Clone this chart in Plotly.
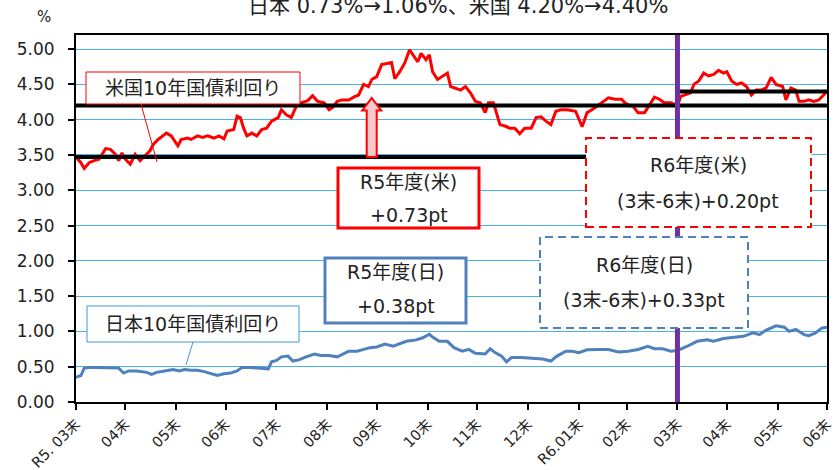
import plotly.graph_objects as go

# ---------------- data ----------------
us_dates = [
    "2023-03-31",
    "2023-04-03", "2023-04-05", "2023-04-08", "2023-04-11", "2023-04-14", "2023-04-18", "2023-04-21", "2023-04-24", "2023-04-26", "2023-04-28", "2023-04-30",
    "2023-05-03", "2023-05-06", "2023-05-09", "2023-05-12", "2023-05-15", "2023-05-17", "2023-05-20", "2023-05-25", "2023-05-28",
    "2023-06-01", "2023-06-03", "2023-06-07", "2023-06-09", "2023-06-13", "2023-06-16", "2023-06-19", "2023-06-23", "2023-06-26", "2023-06-29",
    "2023-07-01", "2023-07-05", "2023-07-07", "2023-07-09", "2023-07-11", "2023-07-13", "2023-07-16", "2023-07-19", "2023-07-22", "2023-07-25", "2023-07-28",
    "2023-08-01", "2023-08-03", "2023-08-06", "2023-08-09", "2023-08-12", "2023-08-15", "2023-08-19", "2023-08-22", "2023-08-25", "2023-08-29",
    "2023-09-01", "2023-09-03", "2023-09-06", "2023-09-09", "2023-09-13", "2023-09-16", "2023-09-19", "2023-09-22", "2023-09-25", "2023-09-27", "2023-09-30",
    "2023-10-03", "2023-10-06", "2023-10-09", "2023-10-11", "2023-10-14", "2023-10-17", "2023-10-20", "2023-10-22", "2023-10-25", "2023-10-27", "2023-10-30",
    "2023-11-01", "2023-11-03", "2023-11-06", "2023-11-09", "2023-11-12", "2023-11-14", "2023-11-17", "2023-11-20", "2023-11-23", "2023-11-26", "2023-11-29",
    "2023-12-02", "2023-12-05", "2023-12-07", "2023-12-10", "2023-12-12", "2023-12-14", "2023-12-17", "2023-12-20", "2023-12-23", "2023-12-26", "2023-12-29",
    "2024-01-02", "2024-01-05", "2024-01-08", "2024-01-11", "2024-01-14", "2024-01-17", "2024-01-20", "2024-01-24", "2024-01-29",
    "2024-02-02", "2024-02-05", "2024-02-08", "2024-02-12", "2024-02-15", "2024-02-18", "2024-02-22", "2024-02-26", "2024-02-28",
    "2024-03-01", "2024-03-04", "2024-03-07", "2024-03-11", "2024-03-14", "2024-03-17", "2024-03-20", "2024-03-23", "2024-03-27", "2024-03-31",
    "2024-04-02", "2024-04-05", "2024-04-08", "2024-04-10", "2024-04-13", "2024-04-16", "2024-04-19", "2024-04-22", "2024-04-25", "2024-04-28", "2024-04-30",
    "2024-05-03", "2024-05-06", "2024-05-09", "2024-05-12", "2024-05-15", "2024-05-18", "2024-05-21", "2024-05-24", "2024-05-27", "2024-05-30",
    "2024-06-03", "2024-06-05", "2024-06-08", "2024-06-11", "2024-06-13", "2024-06-16", "2024-06-19", "2024-06-22", "2024-06-25", "2024-06-28", "2024-06-30",
]
us_yield = [
    3.47,
    3.39, 3.31, 3.39, 3.42, 3.44, 3.59, 3.58, 3.51, 3.42, 3.53, 3.44,
    3.37, 3.51, 3.42, 3.49, 3.56, 3.65, 3.72, 3.81, 3.77,
    3.63, 3.72, 3.74, 3.72, 3.77, 3.75, 3.77, 3.74, 3.77, 3.73,
    3.84, 3.86, 4.05, 4.03, 3.88, 3.77, 3.81, 3.77, 3.86, 3.88, 3.98,
    4.03, 4.14, 4.07, 4.03, 4.19, 4.24, 4.27, 4.34, 4.26, 4.24,
    4.14, 4.17, 4.26, 4.28, 4.28, 4.32, 4.35, 4.50, 4.47, 4.57, 4.61,
    4.78, 4.80, 4.81, 4.58, 4.68, 4.80, 4.99, 4.92, 4.82, 4.94, 4.85,
    4.92, 4.68, 4.57, 4.61, 4.66, 4.47, 4.45, 4.42, 4.47, 4.38, 4.26,
    4.24, 4.10, 4.24, 4.24, 4.10, 3.93, 3.91, 3.88, 3.88, 3.80, 3.88,
    3.88, 4.03, 4.04, 3.98, 3.93, 4.12, 4.14, 4.14, 4.12,
    3.90, 4.10, 4.14, 4.21, 4.26, 4.31, 4.29, 4.29, 4.24,
    4.21, 4.19, 4.10, 4.10, 4.21, 4.32, 4.29, 4.24, 4.24, 4.20,
    4.33, 4.35, 4.38, 4.50, 4.55, 4.66, 4.62, 4.64, 4.70, 4.66, 4.68,
    4.55, 4.50, 4.52, 4.47, 4.35, 4.42, 4.42, 4.45, 4.60, 4.50,
    4.47, 4.28, 4.45, 4.42, 4.26, 4.26, 4.28, 4.26, 4.28, 4.35, 4.40,
]

jp_dates = [
    "2023-03-31",
    "2023-04-03", "2023-04-05", "2023-04-08", "2023-04-12", "2023-04-17", "2023-04-21", "2023-04-26", "2023-04-29",
    "2023-05-02", "2023-05-07", "2023-05-13", "2023-05-16", "2023-05-19", "2023-05-24", "2023-05-29",
    "2023-06-02", "2023-06-05", "2023-06-09", "2023-06-13", "2023-06-17", "2023-06-21", "2023-06-25", "2023-06-29",
    "2023-07-03", "2023-07-07", "2023-07-10", "2023-07-15", "2023-07-19", "2023-07-23", "2023-07-26", "2023-07-28", "2023-07-31",
    "2023-08-03", "2023-08-07", "2023-08-10", "2023-08-14", "2023-08-18", "2023-08-23", "2023-08-27",
    "2023-09-01", "2023-09-06", "2023-09-10", "2023-09-13", "2023-09-18", "2023-09-22", "2023-09-26", "2023-09-30",
    "2023-10-05", "2023-10-10", "2023-10-14", "2023-10-18", "2023-10-24", "2023-10-28",
    "2023-11-01", "2023-11-03", "2023-11-07", "2023-11-12", "2023-11-16", "2023-11-21", "2023-11-25", "2023-11-29",
    "2023-12-05", "2023-12-08", "2023-12-11", "2023-12-15", "2023-12-18", "2023-12-21", "2023-12-27",
    "2024-01-02", "2024-01-09", "2024-01-14", "2024-01-17", "2024-01-23", "2024-01-27", "2024-01-31",
    "2024-02-05", "2024-02-12", "2024-02-18", "2024-02-24",
    "2024-03-01", "2024-03-07", "2024-03-13", "2024-03-17", "2024-03-22", "2024-03-27", "2024-03-31",
    "2024-04-06", "2024-04-12", "2024-04-18", "2024-04-22", "2024-04-28",
    "2024-05-04", "2024-05-10", "2024-05-16", "2024-05-20", "2024-05-24", "2024-05-30",
    "2024-06-04", "2024-06-07", "2024-06-11", "2024-06-16", "2024-06-19", "2024-06-23", "2024-06-27", "2024-06-30",
]
jp_yield = [
    0.35,
    0.375, 0.48, 0.49, 0.49, 0.49, 0.49, 0.48, 0.41,
    0.44, 0.44, 0.42, 0.39, 0.42, 0.44, 0.46,
    0.44, 0.46, 0.45, 0.45, 0.43, 0.40, 0.375, 0.40,
    0.41, 0.44, 0.49, 0.49, 0.48, 0.47, 0.47, 0.57, 0.59,
    0.64, 0.65, 0.58, 0.60, 0.64, 0.68, 0.66,
    0.66, 0.64, 0.68, 0.72, 0.72, 0.75, 0.77, 0.78,
    0.82, 0.79, 0.83, 0.86, 0.88, 0.91,
    0.96, 0.92, 0.86, 0.86, 0.77, 0.72, 0.745, 0.69,
    0.68, 0.755, 0.70, 0.65, 0.57, 0.63, 0.63,
    0.62, 0.61, 0.58, 0.64, 0.72, 0.72, 0.70,
    0.74, 0.745, 0.745, 0.71,
    0.72, 0.745, 0.79, 0.755, 0.755, 0.72, 0.73,
    0.79, 0.86, 0.88, 0.86, 0.90,
    0.91, 0.93, 0.98, 0.955, 1.02, 1.08,
    1.06, 1.00, 1.03, 0.955, 0.94, 0.98, 1.05, 1.06,
]

tick_dates = ["2023-03-31", "2023-04-30", "2023-05-31", "2023-06-30", "2023-07-31", "2023-08-31",
              "2023-09-30", "2023-10-31", "2023-11-30", "2023-12-31", "2024-01-31", "2024-02-29",
              "2024-03-31", "2024-04-30", "2024-05-31", "2024-06-30"]
tick_labels = ["R5. 03末", "04末", "05末", "06末", "07末", "08末", "09末", "10末", "11末", "12末",
               "R6.01末", "02末", "03末", "04末", "05末", "06末"]

fy_start = "2023-03-31"
fy_split = "2024-03-31"
period_end = "2024-06-30"
us_levels = [3.47, 4.20, 4.40]   # R5 start, R5 end (=R6 start), R6 Jun-end

title_text = "日本 0.73%→1.06%、米国 4.20%→4.40%"

# ---------------- layout helpers ----------------
W, H = 835, 470
L, R, T, B = 76, 827, 35, 402


def px(x):
    return (x - L) / (R - L)


def py(y):
    return (B - y) / (B - T)


RED = "#ff0000"
BLUE_LINE = "#4f81bd"
BLUE_BOX = "#4f81bd"
BLUE_CALLOUT = "#3c9ad6"
GRID = "#4db4e6"
PURPLE = "#7030a0"
FONT = "DejaVu Sans, Noto Sans CJK JP, sans-serif"

fig = go.Figure()
fig.add_trace(go.Scatter(x=us_dates, y=us_yield, mode="lines",
                         line=dict(color=RED, width=3), showlegend=False))
fig.add_trace(go.Scatter(x=jp_dates, y=jp_yield, mode="lines",
                         line=dict(color=BLUE_LINE, width=3), showlegend=False))

shapes = []
# reference level lines
shapes.append(dict(type="line", xref="x", yref="y", x0=fy_start, x1=fy_split,
                   y0=us_levels[0], y1=us_levels[0], line=dict(color="black", width=4), layer="above"))
shapes.append(dict(type="line", xref="x", yref="y", x0=fy_start, x1=period_end,
                   y0=us_levels[1], y1=us_levels[1], line=dict(color="black", width=4), layer="above"))
shapes.append(dict(type="line", xref="x", yref="y", x0=fy_split, x1=period_end,
                   y0=us_levels[2], y1=us_levels[2], line=dict(color="black", width=4), layer="above"))
# fiscal year split
shapes.append(dict(type="line", xref="x", yref="paper", x0=fy_split, x1=fy_split, y0=0, y1=1,
                   line=dict(color=PURPLE, width=5), layer="above"))
# block arrow (R5 US rise)
ax = px(371.7)
sw = 5 / (R - L)
hw = 9.5 / (R - L)
tip = 4.31
hb = 4.13
base = us_levels[0]
path = (f"M {ax - sw},{base} L {ax - sw},{hb} L {ax - hw},{hb} L {ax},{tip} "
        f"L {ax + hw},{hb} L {ax + sw},{hb} L {ax + sw},{base} Z")
shapes.append(dict(type="path", xref="paper", yref="y", path=path,
                   fillcolor="#f8c8cc", line=dict(color=RED, width=2), layer="above"))


def rect(x0, y0, x1, y1, color, width, dash="solid"):
    shapes.append(dict(type="rect", xref="paper", yref="paper",
                       x0=px(x0), x1=px(x1), y0=py(y1), y1=py(y0),
                       fillcolor="white", line=dict(color=color, width=width, dash=dash),
                       layer="above"))


def seg(x0, y0, x1, y1, color, width=1):
    shapes.append(dict(type="line", xref="paper", yref="paper",
                       x0=px(x0), x1=px(x1), y0=py(y0), y1=py(y1),
                       line=dict(color=color, width=width), layer="above"))


# callouts for series names
rect(86, 72, 300, 104, RED, 1)
seg(141, 104, 157, 162, RED, 1)
rect(87, 306, 299, 342, BLUE_CALLOUT, 1)
seg(193, 342, 186, 365, BLUE_CALLOUT, 1)
# change boxes
rect(338, 168, 479, 228, RED, 3)
rect(325, 258, 466, 323, BLUE_BOX, 3)
rect(586, 138, 811, 227, RED, 2, "8px,5px")
rect(540, 237, 748, 328, BLUE_BOX, 2, "8px,5px")

annotations = []


def label(x, y, text, size=19, family=FONT, color="#222222"):
    annotations.append(dict(xref="paper", yref="paper", x=px(x), y=py(y), text=text,
                            showarrow=False, xanchor="center", yanchor="middle",
                            font=dict(size=size, family=family, color=color)))


label(193, 88, "米国10年国債利回り")
label(193, 324, "日本10年国債利回り")
label(408.5, 182, "R5年度(米)")
label(408.5, 215, "+0.73pt")
label(395.5, 272, "R5年度(日)")
label(395.5, 306, "+0.38pt")
label(698, 165, "R6年度(米)")
label(698, 201, "(3末-6末)+0.20pt")
label(644, 265, "R6年度(日)")
label(644, 300, "(3末-6末)+0.33pt")
label(44, 17, "%", size=15)
label(458, 6, title_text, size=21)

fig.update_layout(
    width=W, height=H,
    margin=dict(l=L, r=W - R, t=T, b=H - B, autoexpand=False),
    paper_bgcolor="white", plot_bgcolor="white",
    shapes=shapes, annotations=annotations,
    showlegend=False,
    xaxis=dict(type="date", range=[fy_start, period_end], tickmode="array",
               tickvals=tick_dates, ticktext=tick_labels, tickangle=-45,
               ticks="outside", ticklen=6, tickwidth=1.5, tickcolor="black",
               showline=True, linecolor="black", linewidth=2, mirror=True,
               showgrid=False, zeroline=False, automargin=False,
               ticklabeloverflow="allow", ticklabelstandoff=0,
               tickfont=dict(size=14.5, family=FONT, color="#222222")),
    yaxis=dict(range=[0, 5.2], dtick=0.5, tick0=0, tickformat=".2f",
               ticks="outside", ticklen=6, tickwidth=1.5, tickcolor="black",
               showline=True, linecolor="black", linewidth=2, mirror=True,
               showgrid=True, gridcolor=GRID, gridwidth=1.3, zeroline=False,
               automargin=False, ticklabelstandoff=10,
               tickfont=dict(size=17, family=FONT, color="#222222")),
)

fig.write_html("out.html", config={"displayModeBar": False},
               post_script="document.body.style.margin='0';document.body.style.overflow='hidden';")
